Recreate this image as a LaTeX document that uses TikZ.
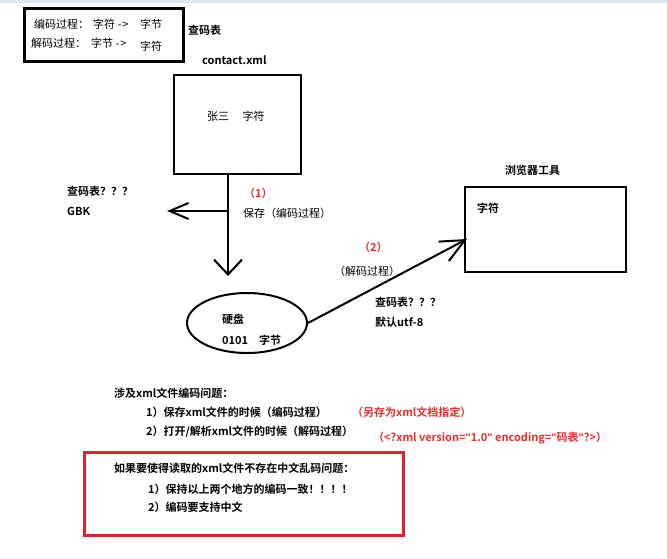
\documentclass[tikz,border=0pt]{standalone}
\usepackage{fontspec}
\setmainfont{Noto Sans CJK SC}[BoldFont={Noto Sans CJK SC Bold}]
\newfontfamily\latinfont{Liberation Sans}
\newcommand{\sq}{{\latinfont\bfseries\symbol{34}}}
\usetikzlibrary{arrows.meta,shapes.geometric}
\definecolor{myred}{HTML}{EE2A2A}
\definecolor{boxred}{HTML}{E5202A}
\definecolor{topblue}{HTML}{DCE6F4}
\tikzset{
  txt/.style={anchor=west,inner sep=0pt,font=\fontsize{11}{13}\selectfont},
  btxt/.style={txt,font=\fontsize{11}{13}\selectfont\bfseries},
  rtxt/.style={btxt,text=myred},
  frame/.style={draw=black,line width=2pt},
  conn/.style={draw=black,line width=2pt},
}
\begin{document}
\begin{tikzpicture}[x=1pt,y=-1pt]
\useasboundingbox (0,0) rectangle (667,558);
\fill[topblue] (0,0) rectangle (667,3);
% top-left legend box
\node[frame,line width=2.5pt,minimum width=159pt,minimum height=53pt,anchor=north west,inner sep=0pt] (legend) at (23,7) {};
\node[txt] (l1a) at (34,24) {编码过程：};
\node[txt] (l1b) at (93,24) {字符 -\kern1pt>};
\node[txt] (l1c) at (140,24) {字节};
\node[txt] (l2a) at (31,43) {解码过程：};
\node[txt] (l2b) at (91,43) {字节 -\kern1pt>};
\node[txt] (l3) at (140,46) {字符};
\node[btxt] (cmb) at (188,30) {查码表};
\node[btxt] (cxml) at (202,60) {contact.xml};
% contact box
\node[frame,minimum width=127pt,minimum height=99pt,anchor=north west,inner sep=0pt] (c) at (173,74) {};
\node[txt] (ct) at (207,116) {张三\quad\ 字符};
% arrows from contact
\coordinate (down) at (228,276);
\coordinate (split) at (228,211);
\coordinate (left) at (167,211);
\draw[conn,-{Straight Barb[length=15pt,width=28pt,line width=2pt]}] (c.south -| split) -- (down);
\draw[conn,-{Straight Barb[length=19pt,width=16pt,line width=2pt]}] (split) -- (left);
\node[btxt] (q1) at (67,191) {查码表？？？};
\node[btxt] (gbk) at (67,211) {GBK};
\node[rtxt] (n1) at (244,193) {（1）};
\node[txt] (s1) at (243,213) {保存（编码过程）};
% disk
\node[draw=black,line width=2pt,ellipse,minimum width=120pt,minimum height=60pt,inner sep=0pt] (disk) at (247,323) {};
\node[btxt] (d1) at (222,319) {硬盘};
\node[btxt] (d2) at (222,340) {0101\quad 字节};
% browser box
\node[frame,minimum width=161pt,minimum height=85pt,anchor=north west,inner sep=0pt] (b) at (464,186) {};
\node[btxt] (bt) at (505,170) {浏览器工具};
\node[btxt] (bc) at (477,208) {字符};
\coordinate (btip) at (467,239);
\draw[conn,-{Straight Barb[length=24pt,width=22pt,line width=2pt]}] (disk.east) -- (btip);
\node[rtxt] (n2) at (359,247) {（2）};
\node[txt] (s2) at (334,271) {（解码过程）};
\node[btxt] (q2) at (375,302) {查码表？？？};
\node[btxt] (utf) at (375,322) {默认utf-8};
% bottom notes
\node[btxt] (p0) at (114,393) {涉及xml文件编码问题：};
\node[btxt] (p1) at (146,412) {1）保存xml文件的时候（编码过程）};
\node[rtxt] (p1r) at (352,412) {（另存为xml文档指定）};
\node[btxt] (p2) at (146,432) {2）打开/解析xml文件的时候（解码过程）};
\node[rtxt] (p2r) at (373,438) {（<?xml version=\sq 1.0\sq\ encoding=\sq 码表\sq ?>）};
% red box
\node[draw=boxred,line width=2.5pt,minimum width=319pt,minimum height=83pt,anchor=north west,inner sep=0pt] (rb) at (83,451) {};
\node[btxt] (r0) at (114,468) {如果要使得读取的xml文件不存在中文乱码问题：};
\node[btxt] (r1) at (148,489) {1）保持以上两个地方的编码一致！！！！};
\node[btxt] (r2) at (148,507) {2）编码要支持中文};
\end{tikzpicture}
\end{document}
